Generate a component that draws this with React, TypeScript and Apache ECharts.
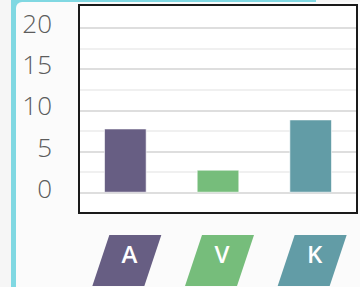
import React, { useEffect, useRef } from "react";
import * as echarts from "echarts";

const categories = ["A", "V", "K"];
const values = [7.8, 2.8, 8.9];
const barColors = ["#675e83", "#76bd7b", "#629ca6"];
const yTicks = { min: 0, max: 20, interval: 5 };

export default function App() {
  const ref = useRef<HTMLDivElement>(null);
  useEffect(() => {
    if (!ref.current) return;
    const chart = echarts.init(ref.current, undefined, { renderer: "svg" });
    const option: any = {
      animation: false,
      backgroundColor: "#f6f6f6",
      grid: { left: 79, right: 3, top: 28, bottom: 94.3, containLabel: false },
      graphic: [
        { type: "rect", z: -30, shape: { x: 11, y: -10, width: 305, height: 320, r: 8 }, style: { fill: "#80d8e2" } },
        { type: "rect", z: -29, shape: { x: 16, y: 2, width: 400, height: 320, r: [6, 0, 0, 0] }, style: { fill: "#fbfbfb" } },
        { type: "rect", z: -28, shape: { x: 79, y: 5, width: 278, height: 208 }, style: { fill: "#ffffff" } },
        { type: "rect", z: 20, shape: { x: 79, y: 5, width: 278, height: 208 }, style: { fill: "none", stroke: "#1a1a1a", lineWidth: 2 } },
      ],
      xAxis: {
        type: "category",
        data: categories,
        axisLine: { show: false },
        axisTick: { show: false },
        axisLabel: { show: false },
        splitLine: { show: false },
      },
      yAxis: {
        type: "value",
        min: yTicks.min,
        max: yTicks.max,
        interval: yTicks.interval,
        axisLine: { show: false },
        axisTick: { show: false },
        axisLabel: {
          color: "#5c5c5c",
          fontSize: 26,
          fontWeight: 300,
          fontFamily: "Open Sans",
          margin: 27,
          verticalAlign: "bottom",
          lineHeight: 10,
        },
        splitLine: { lineStyle: { color: "#dedede", width: 2 } },
        minorTick: { show: false, splitNumber: 2 },
        minorSplitLine: { show: true, lineStyle: { color: "#f0f0f0", width: 2 } },
      },
      series: [
        {
          type: "bar",
          barWidth: "46%",
          data: values.map((v, i) => ({ value: v, itemStyle: { color: barColors[i] } })),
          itemStyle: { borderColor: "rgba(255,255,255,0.6)", borderWidth: 1 },
        },
        {
          type: "custom",
          clip: false,
          silent: true,
          data: categories.map((c, i) => [i, 0]),
          encode: { x: 0, y: 1 },
          renderItem: (params: any, api: any) => {
            const idx = api.value(0);
            const p = api.coord([idx, 0]);
            const cx = p[0];
            const top = p[1] + 42.3;
            const bot = top + 51;
            return {
              type: "group",
              children: [
                {
                  type: "polygon",
                  shape: {
                    points: [
                      [cx - 16, top],
                      [cx + 36, top],
                      [cx + 19, bot],
                      [cx - 33, bot],
                    ],
                  },
                  style: { fill: barColors[idx] },
                },
                {
                  type: "text",
                  x: cx + 4,
                  y: top + 18.5,
                  style: {
                    text: categories[idx],
                    fill: "#ffffff",
                    fontSize: 24,
                    fontWeight: 600,
                    fontFamily: "Open Sans",
                    align: "center",
                    verticalAlign: "middle",
                  },
                },
              ],
            };
          },
        },
      ],
    };
    chart.setOption(option);
    return () => chart.dispose();
  }, []);
  return (
    <div
      ref={ref}
      style={{ position: "fixed", left: 0, top: 0, width: 360, height: 287 }}
    />
  );
}
